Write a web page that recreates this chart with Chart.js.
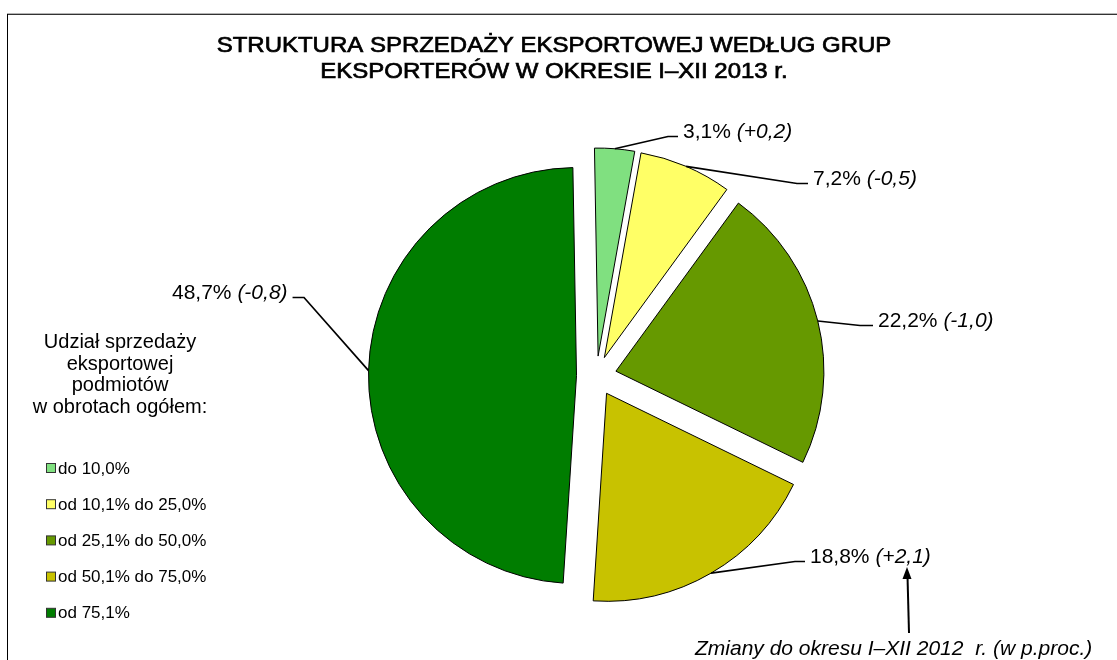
<!DOCTYPE html>
<html lang="pl">
<head>
<meta charset="utf-8">
<title>Struktura sprzedaży eksportowej</title>
<script src="https://cdn.jsdelivr.net/npm/chart.js@4/dist/chart.umd.min.js"></script>
<style>
  html, body { margin: 0; padding: 0; background: #ffffff; }
  #wrap { width: 1117px; height: 660px; }
</style>
</head>
<body>
<div id="wrap"><canvas id="exportChart" width="1117" height="660"></canvas></div>
<script>
// Udział sprzedaży eksportowej podmiotów w obrotach ogółem
const groups = ["do 10,0%", "od 10,1% do 25,0%", "od 25,1% do 50,0%", "od 50,1% do 75,0%", "od 75,1%"];
const shares = [3.1, 7.2, 22.2, 18.8, 48.7];          // % sprzedaży eksportowej, I-XII 2013
const changes = [0.2, -0.5, -1.0, 2.1, -0.8];         // zmiana w p.proc. do I-XII 2012
const sliceColors = ["#80e080", "#ffff66", "#669900", "#c8c200", "#007d00"];

const titleLines = ["STRUKTURA SPRZEDAŻY EKSPORTOWEJ WEDŁUG GRUP", "EKSPORTERÓW W OKRESIE I–XII 2013 r."];
const legendTitle = ["Udział sprzedaży", "eksportowej", "podmiotów", "w obrotach ogółem:"];
const noteText = "Zmiany do okresu I–XII 2012  r. (w p.proc.)";

const explode = 20;
const font = '"Liberation Sans", Arial, sans-serif';

// where each value label sits (text start / baseline / end of the slanted leader)
const labelPos = [
  { x: 683, y: 138, elbow: 668 },
  { x: 813, y: 185, elbow: 797 },
  { x: 878, y: 327, elbow: 860 },
  { x: 810, y: 563, elbow: 795 },
  { x: 172, y: 299, elbow: 304, left: true }
];

function fmt(v) {
  return v.toFixed(1).replace('.', ',');
}

// pull every slice out along its middle angle
const explodePlugin = {
  id: 'explode',
  beforeDatasetsDraw(chart) {
    const ctx = chart.ctx;
    chart.getDatasetMeta(0).data.forEach(arc => {
      const mid = (arc.startAngle + arc.endAngle) / 2;
      ctx.save();
      ctx.translate(Math.cos(mid) * explode, Math.sin(mid) * explode);
      arc.draw(ctx);
      ctx.restore();
    });
    return false;
  }
};

const decorPlugin = {
  id: 'decor',
  beforeDraw(chart) {
    const ctx = chart.ctx;
    ctx.save();
    ctx.fillStyle = '#ffffff';
    ctx.fillRect(0, 0, chart.width, chart.height);
    // frame (top and left edge visible)
    ctx.fillStyle = '#b4b4b4';
    ctx.fillRect(7, 13, chart.width - 7, 1);
    ctx.fillStyle = '#333333';
    ctx.fillRect(7, 14, chart.width - 7, 1);
    ctx.fillStyle = '#000000';
    ctx.fillRect(7, 14, 1, chart.height - 14);
    ctx.restore();
  },
  afterDraw(chart) {
    const ctx = chart.ctx;
    ctx.save();
    ctx.fillStyle = '#000000';

    // title: slightly widened, a touch heavier than regular
    ctx.textAlign = 'center';
    ctx.textBaseline = 'alphabetic';
    ctx.font = '22px ' + font;
    ctx.strokeStyle = '#000000';
    ctx.lineWidth = 0.7;
    titleLines.forEach((line, i) => {
      ctx.save();
      ctx.translate(554, 52 + i * 25.5);
      ctx.scale(1.09, 1);
      ctx.fillText(line, 0, 0);
      ctx.strokeText(line, 0, 0);
      ctx.restore();
    });

    // legend heading
    ctx.font = '20px ' + font;
    legendTitle.forEach((line, i) => ctx.fillText(line, 120, 348 + i * 21.7));

    // legend items
    ctx.textAlign = 'left';
    ctx.textBaseline = 'middle';
    ctx.font = '17px ' + font;
    groups.forEach((g, i) => {
      const y = 468 + i * 36.2;
      ctx.fillStyle = sliceColors[i];
      ctx.fillRect(46.5, y - 4.5, 9, 9);
      ctx.strokeStyle = '#333333';
      ctx.lineWidth = 1;
      ctx.strokeRect(46.5, y - 4.5, 9, 9);
      ctx.fillStyle = '#000000';
      ctx.fillText(g, 58, y + 1);
    });

    // value labels with leader lines
    ctx.textBaseline = 'alphabetic';
    ctx.strokeStyle = '#000000';
    ctx.lineWidth = 1.7;
    chart.getDatasetMeta(0).data.forEach((arc, i) => {
      const p = labelPos[i];
      const mid = (arc.startAngle + arc.endAngle) / 2;
      const r = arc.outerRadius + explode;
      const ax = arc.x + Math.cos(mid) * r;
      const ay = arc.y + Math.sin(mid) * r;

      const main = fmt(shares[i]) + '% ';
      const diff = '(' + (changes[i] > 0 ? '+' : '') + fmt(changes[i]) + ')';
      ctx.font = '21px ' + font;
      const w1 = ctx.measureText(main).width;
      ctx.font = 'italic 21px ' + font;
      const w2 = ctx.measureText(diff).width;

      const ly = p.y - 1.5;
      const end = p.left ? p.x + w1 + w2 + 5 : p.x - 5;
      ctx.beginPath();
      ctx.moveTo(ax, ay);
      ctx.lineTo(p.elbow, ly);
      ctx.lineTo(end, ly);
      ctx.stroke();

      ctx.font = '21px ' + font;
      ctx.fillText(main, p.x, p.y);
      ctx.font = 'italic 21px ' + font;
      ctx.fillText(diff, p.x + w1, p.y);
    });

    // arrow pointing at the change in brackets
    ctx.lineWidth = 2;
    ctx.beginPath();
    ctx.moveTo(909, 633);
    ctx.lineTo(907.5, 576);
    ctx.stroke();
    ctx.beginPath();
    ctx.moveTo(907, 567);
    ctx.lineTo(902.5, 579);
    ctx.lineTo(911.5, 579);
    ctx.closePath();
    ctx.fill();

    ctx.font = 'italic 21px ' + font;
    ctx.fillText(noteText, 695, 655);
    ctx.restore();
  }
};

new Chart(document.getElementById('exportChart'), {
  type: 'pie',
  data: {
    labels: groups,
    datasets: [{
      data: shares,
      backgroundColor: sliceColors,
      borderColor: '#000000',
      borderWidth: 1,
      borderJoinStyle: 'miter'
    }]
  },
  options: {
    responsive: false,
    animation: false,
    events: [],
    rotation: -1,
    radius: 208,
    layout: { padding: { left: 76, right: 0, top: 92, bottom: 0 } },
    plugins: {
      legend: { display: false },
      tooltip: { enabled: false },
      title: { display: false }
    }
  },
  plugins: [decorPlugin, explodePlugin]
});
</script>
</body>
</html>
